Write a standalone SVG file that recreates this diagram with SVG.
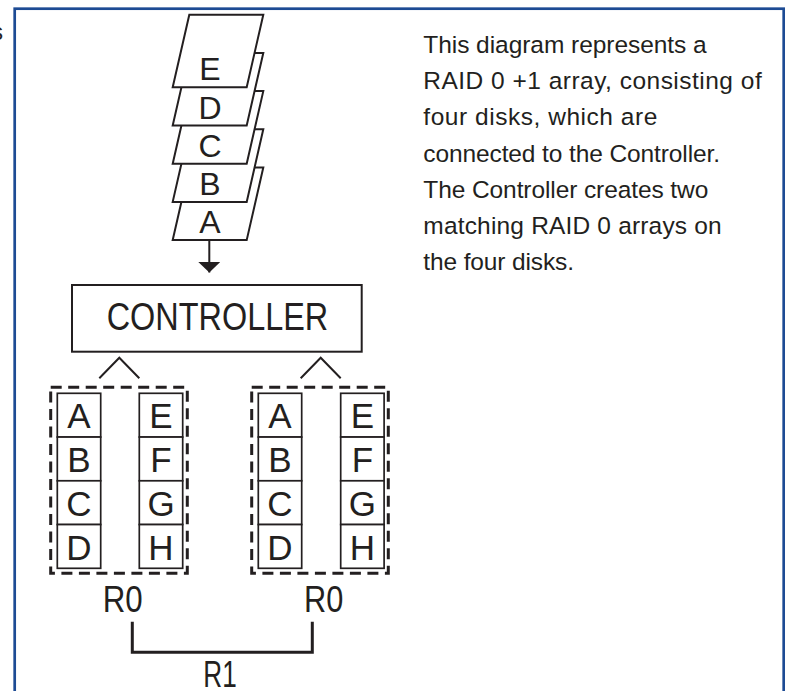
<svg xmlns="http://www.w3.org/2000/svg" width="785" height="691" viewBox="0 0 785 691">
<style>
.ink{fill:none;stroke:#231f20;stroke-width:2}
.box{fill:#fff;stroke:#231f20;stroke-width:2}
.cell{fill:#fff;stroke:#231f20;stroke-width:1.7}
.dash{fill:none;stroke:#231f20;stroke-width:3;stroke-dasharray:11 6.5}
.t{font-family:"Liberation Sans",Arial,sans-serif;fill:#231f20}
.big{font-size:32px;text-anchor:middle}
.disk{font-size:35px;text-anchor:middle}
.lbl{font-size:36px}
.para{font-size:24.5px}
</style>
<defs>
<marker id="ah" viewBox="0 0 10.5 22" refX="10.5" refY="11" markerWidth="10.5" markerHeight="22" markerUnits="userSpaceOnUse" orient="auto">
<path d="M0,0 L10.5,11 L0,22 Z" fill="#231f20"/>
</marker>
</defs>
<rect width="785" height="691" fill="#fff"/>
<g id="frame">
<rect x="14.7" y="8.7" width="769" height="720" fill="none" stroke="#1d4b94" stroke-width="2.7"/>
<text class="t" x="-8.5" y="40" font-size="23">s</text>
</g>
<g id="stack">
<g id="block-A"><polygon class="box" points="189.3,167.5 263.3,167.5 246.7,240.1 172.7,240.1"/><text class="t big" x="210" y="233.3">A</text></g>
<g id="block-B"><polygon class="box" points="189.3,129.3 263.3,129.3 246.7,201.9 172.7,201.9"/><text class="t big" x="210" y="195">B</text></g>
<g id="block-C"><polygon class="box" points="189.3,91.1 263.3,91.1 246.7,163.7 172.7,163.7"/><text class="t big" x="210" y="157">C</text></g>
<g id="block-D"><polygon class="box" points="189.3,52.9 263.3,52.9 246.7,125.5 172.7,125.5"/><text class="t big" x="210" y="119">D</text></g>
<g id="block-E"><polygon class="box" points="189.3,14.7 263.3,14.7 246.7,87.3 172.7,87.3"/><text class="t big" x="210" y="80">E</text></g>
</g>
<g id="controller">
<rect class="box" x="72" y="285" width="289.7" height="66.7"/>
<text class="t" x="106.7" y="330" font-size="39" textLength="221.6" lengthAdjust="spacingAndGlyphs">CONTROLLER</text>
</g>
<g id="array-left">
<rect class="dash" x="50.7" y="387.3" width="136.6" height="186"/>
<rect class="cell" x="57.3" y="393.3" width="43.4" height="43.75"/>
<rect class="cell" x="57.3" y="437.05" width="43.4" height="43.75"/>
<rect class="cell" x="57.3" y="480.8" width="43.4" height="43.75"/>
<rect class="cell" x="57.3" y="524.55" width="43.4" height="43.75"/>
<rect class="cell" x="139.3" y="393.3" width="43.4" height="43.75"/>
<rect class="cell" x="139.3" y="437.05" width="43.4" height="43.75"/>
<rect class="cell" x="139.3" y="480.8" width="43.4" height="43.75"/>
<rect class="cell" x="139.3" y="524.55" width="43.4" height="43.75"/>
<text class="t disk" x="79" y="428.3">A</text>
<text class="t disk" x="79" y="472">B</text>
<text class="t disk" x="79" y="516">C</text>
<text class="t disk" x="79" y="560">D</text>
<text class="t disk" x="161" y="428.3">E</text>
<text class="t disk" x="161" y="472">F</text>
<text class="t disk" x="161" y="516">G</text>
<text class="t disk" x="161" y="560">H</text>
<text class="t lbl" x="102.7" y="611.7" textLength="40" lengthAdjust="spacingAndGlyphs">R0</text>
</g>
<g id="array-right">
<rect class="dash" x="251.7" y="387.3" width="136.6" height="186"/>
<rect class="cell" x="258.3" y="393.3" width="43.4" height="43.75"/>
<rect class="cell" x="258.3" y="437.05" width="43.4" height="43.75"/>
<rect class="cell" x="258.3" y="480.8" width="43.4" height="43.75"/>
<rect class="cell" x="258.3" y="524.55" width="43.4" height="43.75"/>
<rect class="cell" x="340.7" y="393.3" width="43.4" height="43.75"/>
<rect class="cell" x="340.7" y="437.05" width="43.4" height="43.75"/>
<rect class="cell" x="340.7" y="480.8" width="43.4" height="43.75"/>
<rect class="cell" x="340.7" y="524.55" width="43.4" height="43.75"/>
<text class="t disk" x="280" y="428.3">A</text>
<text class="t disk" x="280" y="472">B</text>
<text class="t disk" x="280" y="516">C</text>
<text class="t disk" x="280" y="560">D</text>
<text class="t disk" x="362.4" y="428.3">E</text>
<text class="t disk" x="362.4" y="472">F</text>
<text class="t disk" x="362.4" y="516">G</text>
<text class="t disk" x="362.4" y="560">H</text>
<text class="t lbl" x="304" y="611.7" textLength="39.3" lengthAdjust="spacingAndGlyphs">R0</text>
</g>
<g id="mirror">
<text class="t lbl" x="203.3" y="686.7" textLength="33.4" lengthAdjust="spacingAndGlyphs">R1</text>
</g>
<g id="connectors">
<line class="ink" x1="209.3" y1="241" x2="209.3" y2="272.5" marker-end="url(#ah)"/>
<polyline class="ink" points="99.3,378.3 119.3,357.7 139.3,378.3"/>
<polyline class="ink" points="300.7,378.3 320.7,357.7 340.7,378.3"/>
<polyline class="ink" style="stroke-width:3" points="132.3,621.7 132.3,652.3 312.3,652.3 312.3,621.7"/>
</g>
<g id="description" class="t para">
<text x="423.3" y="53.3" textLength="283.4">This diagram represents a</text>
<text x="423.3" y="89.3" textLength="338.4">RAID 0 +1 array, consisting of</text>
<text x="423.3" y="125.3" textLength="234">four disks, which are</text>
<text x="423.3" y="161.5" textLength="296.7">connected to the Controller.</text>
<text x="423.3" y="197.5" textLength="285">The Controller creates two</text>
<text x="423.3" y="233.5" textLength="298.4">matching RAID 0 arrays on</text>
<text x="423.3" y="269.5" textLength="150.7">the four disks.</text>
</g>
</svg>
